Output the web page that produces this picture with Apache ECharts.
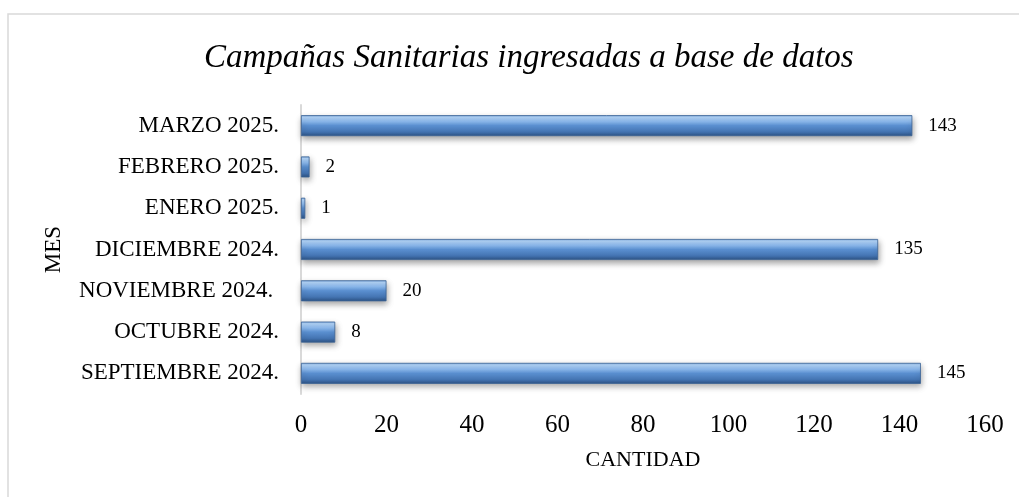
<!DOCTYPE html>
<html><head><meta charset="utf-8">
<script src="https://cdn.jsdelivr.net/npm/echarts@6/dist/echarts.min.js"></script>
<style>html,body{margin:0;padding:0;background:#fff}#c{width:1019px;height:497px}</style>
</head><body><div id="c"></div>
<script>
const categories = ['SEPTIEMBRE 2024.', 'OCTUBRE 2024.', 'NOVIEMBRE 2024. ', 'DICIEMBRE 2024.', 'ENERO 2025.', 'FEBRERO 2025.', 'MARZO 2025.'];
const values = [145, 8, 20, 135, 1, 2, 143];
const xTicks = [0, 20, 40, 60, 80, 100, 120, 140, 160];

const FONT = 'Liberation Serif';
const chart = echarts.init(document.getElementById('c'));
chart.setOption({
  animation: false,
  backgroundColor: '#fff',
  title: {
    text: 'Campañas Sanitarias ingresadas a base de datos',
    left: 199, top: 37,
    textStyle: { fontFamily: FONT, fontStyle: 'italic', fontWeight: 'normal', fontSize: 33, color: '#000' }
  },
  graphic: [{
    type: 'rect', shape: { x: 8, y: 14, width: 1100, height: 600 },
    style: { fill: 'none', stroke: '#d9d9d9', lineWidth: 1.5 }, silent: true, z: -1
  }],
  grid: { left: 301, right: 34, top: 105, bottom: 103 },
  xAxis: {
    type: 'value', min: 0, max: 160, interval: 20,
    name: 'CANTIDAD', nameLocation: 'middle', nameGap: 55,
    nameTextStyle: { fontFamily: FONT, fontSize: 22, color: '#000' },
    axisLine: { show: false }, axisTick: { show: false }, splitLine: { show: false },
    axisLabel: { fontFamily: FONT, fontSize: 25, color: '#000', margin: 19,
      formatter: v => xTicks.includes(v) ? String(v) : '' }
  },
  yAxis: {
    type: 'category', data: categories,
    name: 'MES', nameLocation: 'middle', nameGap: 236, nameRotate: 90,
    nameTextStyle: { fontFamily: FONT, fontSize: 23, color: '#000' },
    axisLine: { show: true, lineStyle: { color: '#d9d9d9', width: 2 } },
    axisTick: { show: false },
    axisLabel: { fontFamily: FONT, fontSize: 23, color: '#000', margin: 22 }
  },
  series: [{
    type: 'bar', data: values, barWidth: 21,
    itemStyle: {
      color: new echarts.graphic.LinearGradient(0, 0, 0, 1, [
        { offset: 0, color: '#7aa6dc' },
        { offset: 0.1, color: '#b0d2f6' },
        { offset: 0.3, color: '#8dbaee' },
        { offset: 0.5, color: '#5a8fd0' },
        { offset: 0.8, color: '#4474b2' },
        { offset: 1, color: '#2c5283' }
      ]),
      borderColor: '#3b6396', borderWidth: 0.8,
      shadowColor: 'rgba(0,0,0,0.35)', shadowBlur: 6, shadowOffsetY: 3, shadowOffsetX: 1
    },
    label: { show: true, position: 'right', distance: 16, fontFamily: FONT, fontSize: 19, color: '#000' }
  }]
});
</script></body></html>
